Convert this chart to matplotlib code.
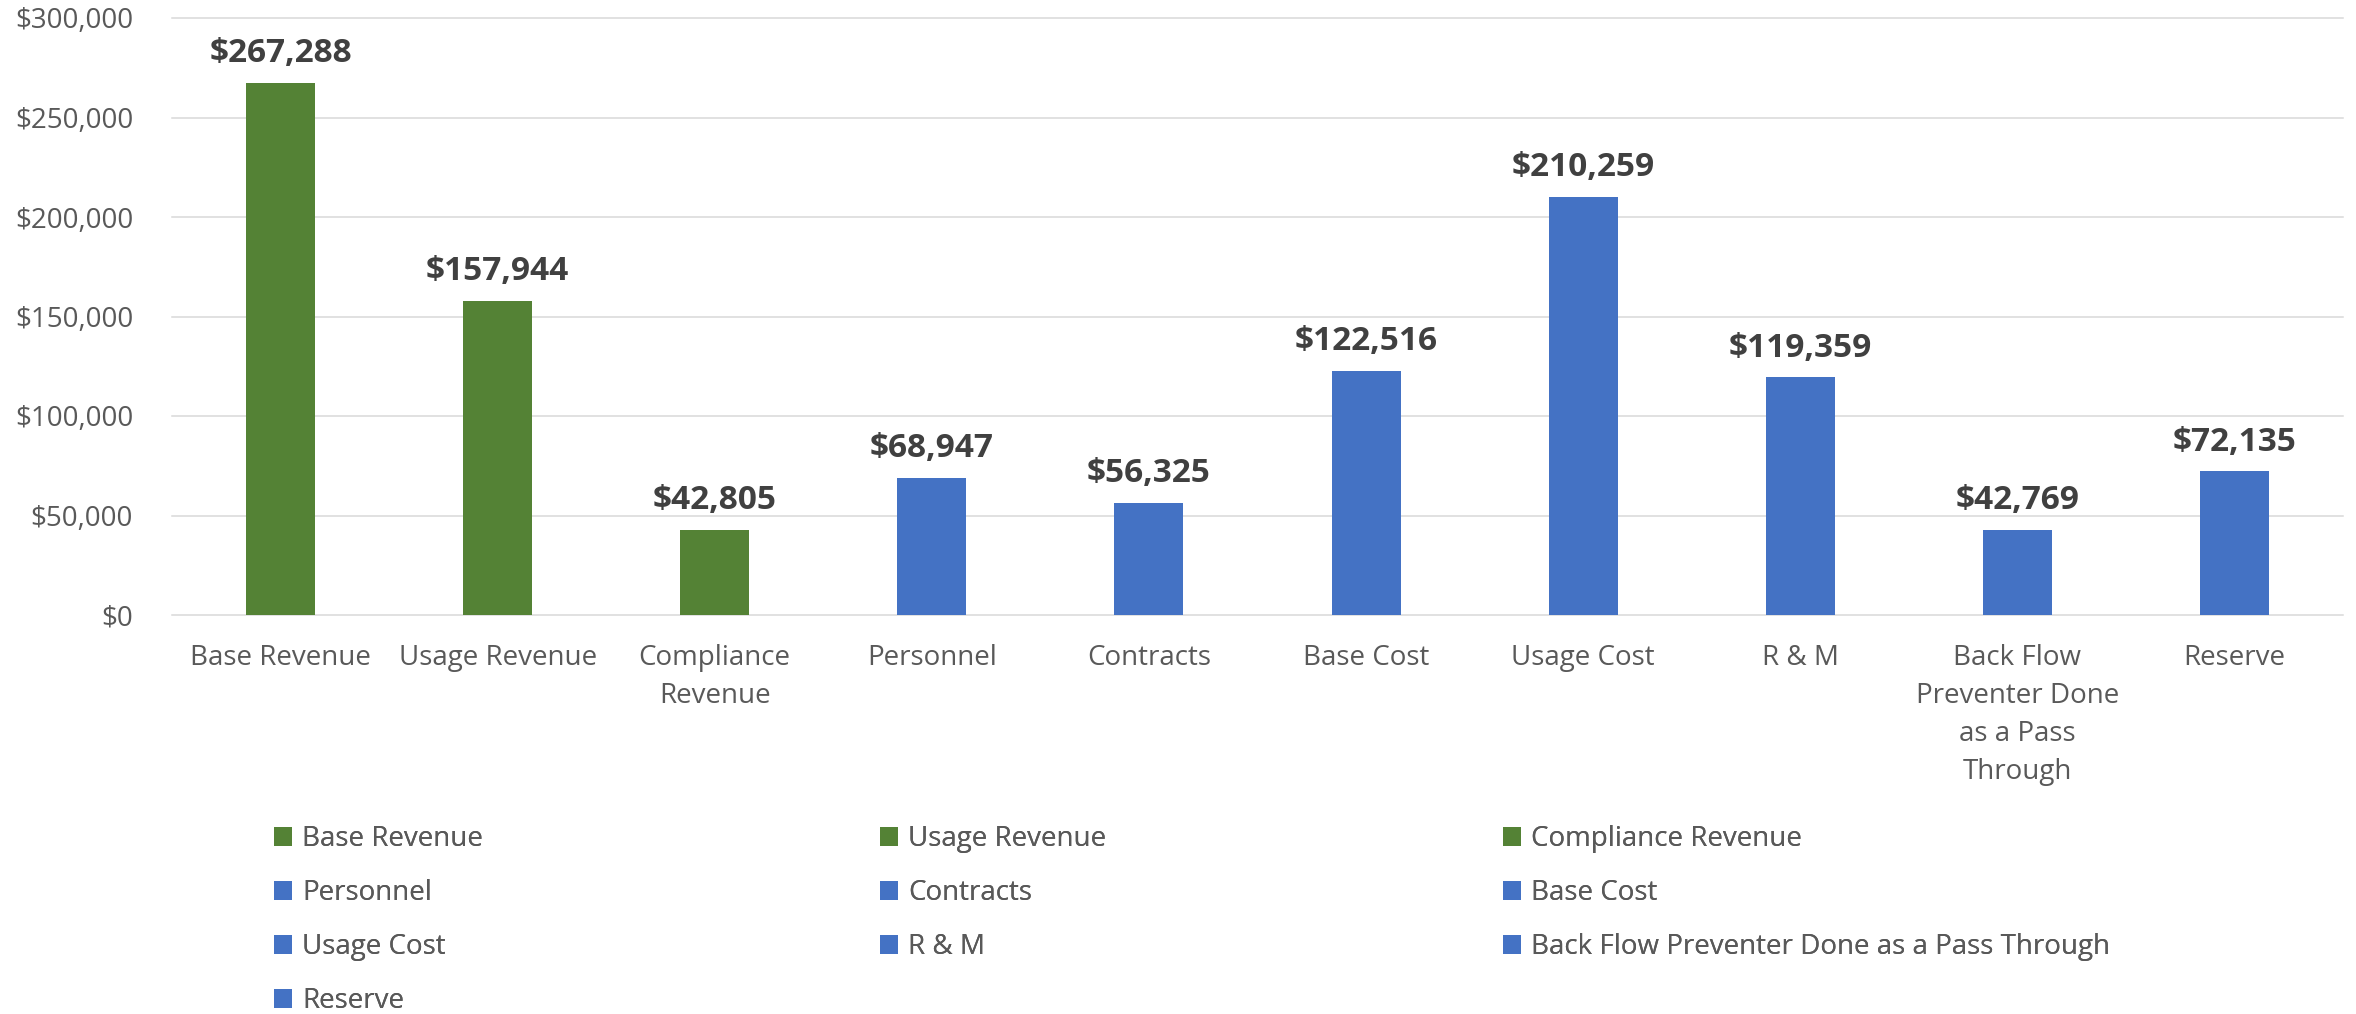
import matplotlib
matplotlib.use("Agg")
import matplotlib.pyplot as plt
from matplotlib.patches import Patch
from matplotlib.ticker import FuncFormatter, MultipleLocator

plt.rcParams['font.family'] = ['Open Sans', 'DejaVu Sans']

categories = ["Base Revenue", "Usage Revenue", "Compliance Revenue", "Personnel",
              "Contracts", "Base Cost", "Usage Cost", "R & M",
              "Back Flow Preventer Done as a Pass Through", "Reserve"]
tick_labels = ["Base Revenue", "Usage Revenue", "Compliance\nRevenue", "Personnel",
               "Contracts", "Base Cost", "Usage Cost", "R & M",
               "Back Flow\nPreventer Done\nas a Pass\nThrough", "Reserve"]
values = [267288, 157944, 42805, 68947, 56325, 122516, 210259, 119359, 42769, 72135]
groups = ["revenue", "revenue", "revenue", "cost", "cost", "cost", "cost", "cost", "cost", "cost"]

GREEN = "#548235"
BLUE = "#4472C4"
colors = [GREEN if g == "revenue" else BLUE for g in groups]

TXT = "#595959"
LBL = "#404040"
GRID = "#D9D9D9"
FS = 20

fig = plt.figure(figsize=(23.56, 10.14), dpi=100)
ax = fig.add_axes([172/2356, 1 - 615/1014, (2343-172)/2356, (615-18)/1014])

x = list(range(len(categories)))
bars = ax.bar(x, values, width=0.318, color=colors, zorder=2)

for xi, v in zip(x, values):
    ax.annotate(f"${v:,.0f}", xy=(xi, v), xytext=(0, 15), textcoords="offset points",
                ha="center", va="baseline", fontsize=24, fontweight="bold", color=LBL)

ax.set_xlim(-0.5, len(categories) - 0.5)
ax.set_ylim(0, 300000)
ax.yaxis.set_major_locator(MultipleLocator(50000))
ax.yaxis.set_major_formatter(FuncFormatter(lambda v, p: f"${v:,.0f}"))
ax.set_xticks(x)
ax.set_xticklabels(tick_labels, linespacing=1.48)
ax.tick_params(axis="both", length=0, labelsize=FS, labelcolor=TXT)
ax.tick_params(axis="y", pad=28)
ax.tick_params(axis="x", pad=21)
for s in ax.spines.values():
    s.set_visible(False)
ax.set_axisbelow(True)
ax.yaxis.grid(True, color=GRID, linewidth=1.1)
for gl in ax.yaxis.get_gridlines():
    gl.set_clip_on(False)

handles = [Patch(facecolor=c, edgecolor="none", label=l) for c, l in zip(colors, categories)]
cols = [[0, 3, 6, 9], [1, 4, 7], [2, 5, 8]]
col_x = [274, 880, 1503]
for ci, idxs in enumerate(cols):
    leg = fig.legend([handles[i] for i in idxs], [categories[i] for i in idxs],
                     loc="upper left", bbox_to_anchor=(col_x[ci]/2356, 1 - 825/1014),
                     frameon=False, fontsize=FS, labelcolor=TXT,
                     handlelength=0.66, handleheight=0.66, handletextpad=0.36,
                     borderpad=0, borderaxespad=0, labelspacing=0.94)
    fig.add_artist(leg)

fig.savefig("out.png", dpi=100)
